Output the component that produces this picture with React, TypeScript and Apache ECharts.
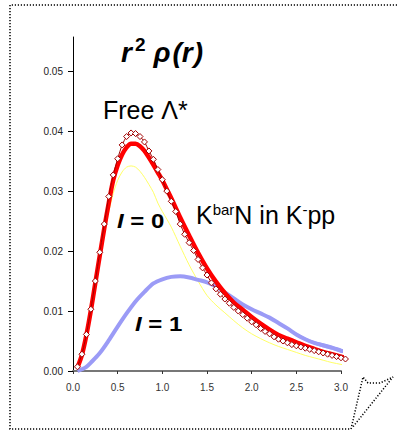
import React, { useEffect, useRef } from "react";
import * as echarts from "echarts";

// r values (fm) for the dense diamond series
const rDiamond = [0.05,0.10,0.15,0.20,0.25,0.30,0.35,0.40,0.45,0.50,0.55,0.60,0.65,0.70,0.75,0.80,0.85,0.90,0.95,1.00,1.05,1.10,1.15,1.20,1.25,1.30,1.35,1.40,1.45,1.50,1.55,1.60,1.65,1.70,1.75,1.80,1.85,1.90,1.95,2.00,2.05,2.10,2.15,2.20,2.25,2.30,2.35,2.40,2.45,2.50,2.55,2.60,2.65,2.70,2.75,2.80,2.85,2.90,2.95,3.00,3.05];
// Free Lambda* (diamonds)
const freeLambda = [0.0007,0.0028,0.0061,0.0103,0.0150,0.0198,0.0245,0.0291,0.0327,0.0354,0.0377,0.0391,0.0397,0.0396,0.0391,0.0382,0.0367,0.0353,0.0336,0.0319,0.0300,0.0283,0.0266,0.0245,0.0228,0.0214,0.0201,0.0186,0.0172,0.0160,0.0147,0.0137,0.0128,0.0120,0.0113,0.0106,0.0100,0.0094,0.0088,0.0082,0.0077,0.0071,0.0066,0.0062,0.0057,0.0053,0.0050,0.0047,0.0044,0.0042,0.0040,0.0038,0.0036,0.0034,0.0032,0.0030,0.0028,0.0026,0.0024,0.0022,0.0020];

const rRed = [0.05,0.10,0.15,0.20,0.25,0.30,0.35,0.40,0.45,0.50,0.55,0.60,0.65,0.70,0.75,0.80,0.85,0.90,0.95,1.00,1.05,1.10,1.20,1.30,1.40,1.50,1.60,1.70,1.80,1.90,2.00,2.10,2.20,2.30,2.40,2.50,2.60,2.70,2.80,2.90,3.00,3.05];
// I = 0 KbarN in K-pp
const iso0 = [0.0006,0.0027,0.0060,0.0101,0.0147,0.0193,0.0238,0.0280,0.0318,0.0343,0.0361,0.0373,0.0379,0.0379,0.0375,0.0367,0.0356,0.0344,0.0331,0.0318,0.0303,0.0288,0.0256,0.0226,0.0197,0.0171,0.0149,0.0130,0.0114,0.0102,0.0090,0.0079,0.0069,0.0060,0.0054,0.0048,0.0042,0.0037,0.0032,0.0028,0.0024,0.0022];

const rYellow = [0.05,0.10,0.15,0.20,0.25,0.30,0.35,0.40,0.45,0.50,0.55,0.60,0.65,0.70,0.75,0.80,0.85,0.90,0.95,1.00,1.10,1.20,1.30,1.40,1.50,1.60,1.70,1.80,1.90,2.00,2.10,2.20,2.30,2.40,2.50,2.60,2.70,2.80,2.90,3.00,3.05];
const yellowCurve = [0.0005,0.0024,0.0055,0.0095,0.0140,0.0185,0.0228,0.0265,0.0296,0.0318,0.0332,0.0340,0.0342,0.0340,0.0333,0.0323,0.0311,0.0298,0.0280,0.0266,0.0240,0.0208,0.0177,0.0150,0.0126,0.0110,0.0097,0.0084,0.0072,0.0062,0.0054,0.0047,0.0041,0.0036,0.0031,0.0026,0.0022,0.0018,0.0014,0.0011,0.0009];

const rBlue = [0.05,0.10,0.15,0.20,0.30,0.40,0.50,0.60,0.70,0.80,0.90,1.00,1.10,1.20,1.30,1.40,1.50,1.60,1.70,1.80,1.90,2.00,2.10,2.20,2.30,2.40,2.50,2.60,2.70,2.80,2.90,3.00,3.05];
// I = 1
const iso1 = [0.0000,0.0003,0.0007,0.0014,0.0030,0.0051,0.0074,0.0096,0.0116,0.0132,0.0146,0.0153,0.0157,0.0158,0.0156,0.0152,0.0148,0.0141,0.0131,0.0121,0.0111,0.0103,0.0096,0.0089,0.0080,0.0071,0.0061,0.0053,0.0047,0.0043,0.0039,0.0034,0.0032];

const rTail = [2.20,2.30,2.40,2.50,2.60,2.70,2.80,2.90,3.00,3.05];
const iso1TailA = [0.0089,0.0081,0.0072,0.0063,0.0055,0.0049,0.0045,0.0041,0.0036,0.0034];
const iso1TailB = [0.0088,0.0079,0.0069,0.0059,0.0051,0.0045,0.0040,0.0036,0.0031,0.0029];

const yTicks = [0, 0.01, 0.02, 0.03, 0.04, 0.05];
const xTicks = [0, 0.5, 1.0, 1.5, 2.0, 2.5, 3.0];

const zip = (xs: number[], ys: number[]) => xs.map((x, i) => [x, ys[i]]);

const FONT = "'Liberation Sans', Arial, sans-serif";

export default function App() {
  const ref = useRef<HTMLDivElement>(null);
  useEffect(() => {
    document.body.style.margin = "0";
    const chart = echarts.init(ref.current!, null, { renderer: "svg" });
    const dotted = { stroke: "#000", lineWidth: 1.5, lineDash: [1.2, 1.8], fill: null };
    const bi = { fontSize: 28, fontWeight: "bold", fontStyle: "italic", fontFamily: FONT, fill: "#000", verticalAlign: "bottom" };
    chart.setOption({
      animation: false,
      backgroundColor: "#fff",
      grid: { left: 73, right: 56, top: 37, bottom: 59 },
      xAxis: {
        type: "value",
        min: 0,
        max: 3.0,
        splitLine: { show: false },
        axisLine: { lineStyle: { color: "#777", width: 2 } },
        axisTick: { customValues: xTicks, length: 3, lineStyle: { color: "#333" } },
        axisLabel: {
          customValues: xTicks,
          formatter: (v: number) => v.toFixed(1),
          fontSize: 10,
          color: "#333",
          margin: 11,
          fontFamily: FONT,
        },
      },
      yAxis: {
        type: "value",
        min: 0,
        max: 0.0557,
        splitLine: { show: false },
        axisLine: { show: true, lineStyle: { color: "#000", width: 1 } },
        axisTick: { show: true, customValues: yTicks, length: 5, lineStyle: { color: "#000" } },
        axisLabel: {
          customValues: yTicks,
          formatter: (v: number) => v.toFixed(2),
          fontSize: 10,
          color: "#222",
          margin: 10,
          fontFamily: FONT,
        },
      },
      series: [
        {
          name: "yellow",
          type: "line",
          data: zip(rYellow, yellowCurve),
          smooth: 0.3,
          showSymbol: false,
          clip: false,
          lineStyle: { color: "#ffff66", width: 1 },
        },
        {
          name: "I=1 tail A",
          type: "line",
          data: zip(rTail, iso1TailA),
          smooth: 0.3,
          showSymbol: false,
          clip: false,
          lineStyle: { color: "#a0a0ff", width: 1 },
        },
        {
          name: "I=1 tail B",
          type: "line",
          data: zip(rTail, iso1TailB),
          smooth: 0.3,
          showSymbol: false,
          clip: false,
          lineStyle: { color: "#a0a0ff", width: 1 },
        },
        {
          name: "I=1",
          type: "line",
          data: zip(rBlue, iso1),
          smooth: 0.3,
          showSymbol: false,
          clip: false,
          lineStyle: { color: "#9b9bf6", width: 4 },
        },
        {
          name: "I=0",
          type: "line",
          data: zip(rRed, iso0),
          smooth: 0.3,
          showSymbol: false,
          clip: false,
          lineStyle: { color: "#ff0000", width: 4.5 },
        },
        {
          name: "Free",
          type: "line",
          data: zip(rDiamond, freeLambda),
          smooth: 0.2,
          clip: false,
          symbol: "diamond",
          symbolSize: 6,
          showAllSymbol: true,
          lineStyle: { color: "#a00000", width: 1 },
          itemStyle: { color: "#fff", borderColor: "#a00000", borderWidth: 1 },
        },
      ],
      graphic: [
        {
          type: "polyline",
          silent: true,
          shape: { points: [[397, 5], [10, 5], [10, 429], [351, 429]] },
          style: dotted,
        },
        {
          type: "polyline",
          silent: true,
          shape: { points: [[351, 429], [363, 377], [368, 383], [380, 383], [393, 377], [352, 428]] },
          style: dotted,
        },
        {
          type: "text",
          left: 121,
          top: 35,
          style: {
            text: "{a|r}{s|2}{b|ρ}{c|(}{a|r}{d|)}",
            rich: {
              a: bi,
              b: { ...bi, padding: [0, 2, 0, 8] },
              c: bi,
              d: { ...bi, padding: [0, 0, 0, 1] },
              s: { fontSize: 19, fontWeight: "bold", fontFamily: FONT, fill: "#000", verticalAlign: "top", padding: [0, 0, 12, 3] },
            },
          },
        },
        {
          type: "text",
          left: 103,
          top: 97,
          style: { text: "Free Λ*", fontSize: 25, fontFamily: FONT, fill: "#000" },
        },
        {
          type: "text",
          x: 117,
          y: 211,
          scaleX: 1.2,
          style: {
            text: "{i|I} = 0",
            rich: { i: { fontStyle: "italic", fontWeight: "bold", fontSize: 20, fontFamily: FONT } },
            fontSize: 20,
            fontWeight: "bold",
            fontFamily: FONT,
            fill: "#000",
          },
        },
        {
          type: "text",
          x: 135,
          y: 314,
          scaleX: 1.2,
          style: {
            text: "{i|I} = 1",
            rich: { i: { fontStyle: "italic", fontWeight: "bold", fontSize: 20, fontFamily: FONT } },
            fontSize: 20,
            fontWeight: "bold",
            fontFamily: FONT,
            fill: "#000",
          },
        },
        {
          type: "text",
          left: 196,
          top: 202,
          style: {
            text: "{n|K}{s|bar}{n|N in K}{s|-}{n|pp}",
            rich: {
              n: { fontSize: 25, fontFamily: FONT, fill: "#000", verticalAlign: "bottom" },
              s: { fontSize: 15, fontFamily: FONT, fill: "#000", verticalAlign: "top", padding: [0, 0, 9, 0] },
            },
          },
        },
      ],
    });
    return () => chart.dispose();
  }, []);
  return <div ref={ref} style={{ width: 397, height: 430 }} />;
}
